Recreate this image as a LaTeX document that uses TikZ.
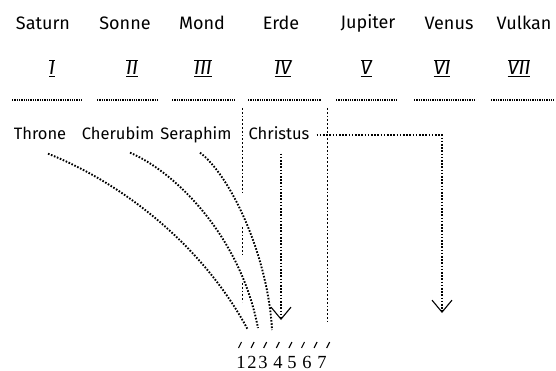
\documentclass[tikz,border=0pt]{standalone}
\usepackage{fontspec}
\setmainfont{Fira Sans}
\newfontfamily\digitfont{Liberation Serif}
\usetikzlibrary{arrows.meta}
\newcommand{\rnum}[1]{$\overline{\underline{\hbox{\itshape #1}}}$}

\begin{document}
\begin{tikzpicture}[
  x=1pt, y=-1pt,
  planet/.style={font=\fontsize{18}{20}\selectfont, inner sep=1pt},
  numeral/.style={font=\fontsize{20}{22}\selectfont, inner sep=1pt},
  being/.style={font=\fontsize{16.5}{19}\selectfont, inner sep=1pt,
                text height=12pt, text depth=3pt},
  digit/.style={font=\digitfont\fontsize{18.5}{20}\selectfont, inner sep=0pt,
                anchor=base},
  rule/.style={line width=1.8pt, dash pattern=on 1.3pt off 1pt},
  divider/.style={line width=1pt, dash pattern=on 1.8pt off 2pt},
  trail/.style={line width=1.9pt, dash pattern=on 1.6pt off 1.6pt},
  arr/.style={trail, -{Straight Barb[length=12pt,width=20pt,line width=1.1pt]}},
  tick/.style={line width=1.1pt}
]
  \useasboundingbox (0,0) rectangle (556,371);

  % planets and their numbers
  \node[planet] (saturn)  at (43,23)  {Saturn};
  \node[planet] (sonne)   at (125,23) {Sonne};
  \node[planet] (mond)    at (202,23) {Mond};
  \node[planet] (erde)    at (281,23) {Erde};
  \node[planet] (jupiter) at (368,23) {Jupiter};
  \node[planet] (venus)   at (449,23) {Venus};
  \node[planet] (vulkan)  at (524,23) {Vulkan};

  \node[numeral] (r1) at (52,68)  {\rnum{I}};
  \node[numeral] (r2) at (132,68) {\rnum{II}};
  \node[numeral] (r3) at (203,68) {\rnum{III}};
  \node[numeral] (r4) at (283,68) {\rnum{IV}};
  \node[numeral] (r5) at (366,68) {\rnum{V}};
  \node[numeral] (r6) at (442,68) {\rnum{VI}};
  \node[numeral] (r7) at (519,68) {\rnum{VII}};

  \foreach \a/\b in {12/82, 97/157, 172/235, 248/321, 336/398, 414/476, 491/554}
    \draw[rule] (\a,100) -- (\b,100);

  % beings
  \node[being] (throne)   at (40,135)  {Throne};
  \node[being] (cherubim) at (118,135) {Cherubim};
  \node[being] (seraphim) at (196,135) {Seraphim};
  \node[being] (christus) at (279,135) {Christus};

  \foreach \a/\b in {108/193, 227/255, 283/302}
    \draw[divider] (242,\a) -- (242,\b);
  \draw[divider] (327,108) -- (327,322);

  \coordinate (e1) at (248,330);
  \coordinate (e2) at (258,328);
  \coordinate (e3) at (272,330);
  \coordinate (e4) at (281,320);
  \coordinate (e5) at (442,313);

  \draw[trail] ([shift={(8,10)}]throne.south)
    .. controls (115,180) and (200,240) .. (e1);
  \draw[trail] ([shift={(12,9)}]cherubim.south)
    .. controls (175,172) and (240,235) .. (e2);
  \draw[trail] ([shift={(4,9)}]seraphim.south)
    .. controls (230,175) and (268,255) .. (e3);
  \draw[arr, shorten <=10pt] (christus.south -| e4) -- (e4);
  \draw[arr, shorten <=6pt] (christus.east) -| (e5);

  % scale below
  \foreach \i in {0,...,7}
    \draw[tick] ({240+12.6*\i+1.5},342) -- ({240+12.6*\i-1.5},348);
  \foreach \d/\x in {1/241, 2/252, 3/263, 4/278, 5/292, 6/307, 7/322}
    \node[digit] (n\d) at (\x,368) {\d};
\end{tikzpicture}
\end{document}
